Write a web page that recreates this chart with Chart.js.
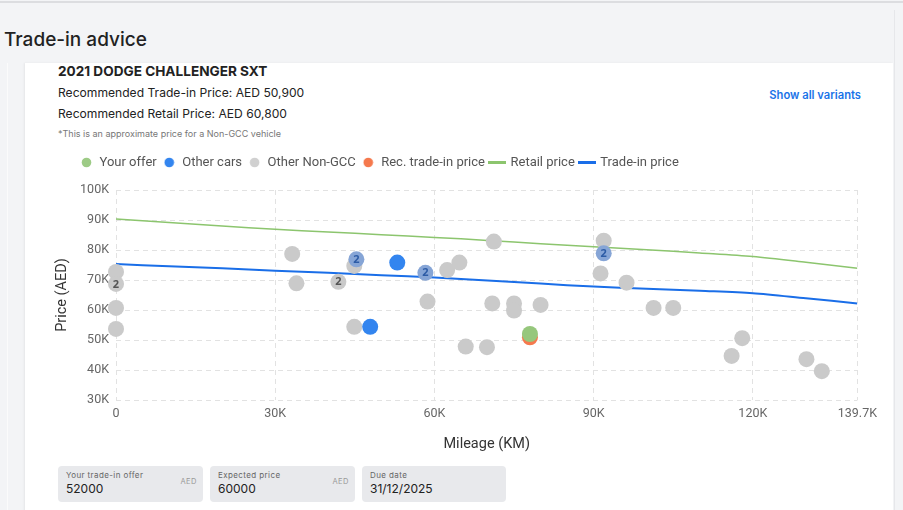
<!DOCTYPE html>
<html>
<head>
<meta charset="utf-8">
<script src="https://cdn.jsdelivr.net/npm/chart.js@4.4.0/dist/chart.umd.min.js"></script>
<style>
  html, body { margin: 0; padding: 0; }
  body {
    width: 903px; height: 510px; overflow: hidden; position: relative;
    background: #f3f4f6; font-family: Inter, "Noto Sans", sans-serif; color: #222;
  }
  .topline { position: absolute; left: 0; top: 1px; width: 903px; height: 2px; background: #dcdde0; }
  .sideline { position: absolute; left: 7px; top: 63px; width: 1px; height: 447px; background: #fbfbfb; }
  .rightline { position: absolute; left: 894px; top: 10px; width: 1px; height: 500px; background: #e6e7ea; }
  h2 { position: absolute; left: 4px; top: 27px; margin: 0; font-size: 19px; font-weight: 500; line-height: 26px; }
  .card { position: absolute; left: 25px; top: 63px; width: 868px; height: 460px; background: #fff; box-shadow: -1px 0 2px rgba(0,0,0,0.06); }
  .txt { position: absolute; left: 58px; white-space: nowrap; }
  .model { top: 62px; font-size: 13.6px; font-weight: 700; line-height: 18px; }
  .price { font-size: 12.1px; line-height: 16px; }
  .note { top: 128px; font-size: 9px; color: #777; line-height: 12px; }
  .variants { position: absolute; right: 42px; top: 87px; font-size: 11.2px; font-weight: 600; color: #1a73e8; line-height: 16px; }
  #wrap { position: absolute; left: 50px; top: 150px; width: 833px; height: 307px; }
  .box { position: absolute; top: 466px; width: 145px; height: 36px; background: #e8e9ec; border-radius: 4px; }
  .box .lab { position: absolute; left: 8px; top: 4px; font-size: 8px; color: #666; letter-spacing: 0.4px; }
  .box .val { position: absolute; left: 8px; top: 15px; font-size: 12px; color: #222; }
  .box .unit { position: absolute; right: 6px; top: 11px; font-size: 7.5px; color: #999; letter-spacing: 0.5px; }
</style>
</head>
<body>
<div class="topline"></div>
<div class="sideline"></div>
<div class="rightline"></div>
<h2>Trade-in advice</h2>
<div class="card"></div>
<div class="txt model">2021 DODGE CHALLENGER SXT</div>
<div class="txt price" style="top:85px">Recommended Trade-in Price: AED 50,900</div>
<div class="txt price" style="top:106px">Recommended Retail Price: AED 60,800</div>
<div class="txt note">*This is an approximate price for a Non-GCC vehicle</div>
<div class="variants">Show all variants</div>
<div id="wrap"><canvas id="chart"></canvas></div>
<div class="box" style="left:58px"><div class="lab">Your trade-in offer</div><div class="val">52000</div><div class="unit">AED</div></div>
<div class="box" style="left:210px"><div class="lab">Expected price</div><div class="val">60000</div><div class="unit">AED</div></div>
<div class="box" style="left:362px; width:144px"><div class="lab">Due date</div><div class="val">31/12/2025</div></div>
<script>
// 軸の目盛り
const xTicks = [0, 30000, 60000, 90000, 120000, 139700];

// あなたのオファー / 推奨下取り価格
const offerMileage = [78000];
const offerPrice = [52000];
const recMileage = [78000];
const recPrice = [50900];

// 他の車（2 = 重なっている台数）
const otherMileage = [45300, 53000, 47900, 58300, 91900];
const otherPrice = [76900, 75800, 54400, 72400, 78900];
const otherCount = [2, 1, 1, 2, 2];

// 他のNon-GCC車
const nonGccMileage = [0, 0, 0, 0, 33200, 34000, 41900, 44900, 44900, 58700, 62400, 64700, 71200, 70900,
  75000, 75000, 80000, 65900, 69900, 91300, 91900, 96200, 101300, 105000, 118000, 116000, 130100, 133000];
const nonGccPrice = [72700, 68700, 60700, 53700, 78700, 68900, 69400, 74700, 54400, 62800, 73300, 75800, 82800, 62200,
  62200, 59800, 61700, 47800, 47600, 72200, 83100, 69100, 60700, 60700, 50600, 44700, 43600, 39600];
const nonGccCount = [1, 2, 1, 1, 1, 1, 2, 1, 1, 1, 1, 1, 1, 1, 1, 1, 1, 1, 1, 1, 1, 1, 1, 1, 1, 1, 1, 1];

// 小売価格と下取り価格のライン
const lineMileage = [0, 10000, 20000, 30000, 40000, 50000, 60000, 70000, 80000, 90000, 100000, 110000, 120000, 130000, 139700];
const retailLine = [90300, 89200, 88000, 86900, 86000, 85100, 84200, 83200, 82100, 81100, 80100, 79000, 77800, 75900, 73900];
const tradeInLine = [75300, 74600, 73900, 73100, 72400, 71600, 70800, 69800, 68800, 67800, 67100, 66400, 65600, 63900, 62200];

function toPoints(xs, ys) {
  return xs.map((x, i) => ({ x: x, y: ys[i] }));
}

// 凡例のマーク
function makeSymbol(kind, color) {
  const c = document.createElement("canvas");
  const g = c.getContext("2d");
  if (kind === "dot") {
    c.width = 11; c.height = 11;
    g.fillStyle = color;
    g.beginPath();
    g.arc(5.5, 5.5, 4.8, 0, Math.PI * 2);
    g.fill();
  } else {
    c.width = 18; c.height = 3;
    g.fillStyle = color;
    g.fillRect(0, 0, 18, 3);
  }
  return c;
}

const GREEN = "#96c77c";
const BLUE = "#3385ef";
const CLUSTER_BLUE = "#86a5d6";
const GRAY = "#cacaca";
const RED = "#f5794d";

// 重なりの数を表示する
const clusterLabels = {
  id: "clusterLabels",
  afterDatasetsDraw(chart) {
    const ctx = chart.ctx;
    chart.data.datasets.forEach((ds, i) => {
      if (!ds.counts) return;
      const meta = chart.getDatasetMeta(i);
      meta.data.forEach((pt, j) => {
        if (ds.counts[j] > 1) {
          ctx.save();
          ctx.font = "bold 11px 'Noto Sans'";
          ctx.fillStyle = ds.countColor;
          ctx.textAlign = "center";
          ctx.textBaseline = "middle";
          ctx.fillText(String(ds.counts[j]), pt.x, pt.y + 0.5);
          ctx.restore();
        }
      });
    });
  },
};

// 凡例の位置調整
const legendShift = {
  id: "legendShift",
  beforeInit(chart) {
    const fit = chart.legend.fit;
    chart.legend.fit = function () {
      fit.bind(chart.legend)();
      this.height += 11;
    };
  },
  afterLayout(chart) {
    chart.legend.left += 24;
  },
};

const dotBase = { type: "scatter", pointRadius: 8, pointHoverRadius: 8, pointBorderWidth: 0, clip: false };

new Chart(document.getElementById("chart"), {
  data: {
    datasets: [
      Object.assign({}, dotBase, {
        label: "Your offer",
        data: toPoints(offerMileage, offerPrice),
        backgroundColor: GREEN,
        legendSymbol: makeSymbol("dot", "#9dcb86"),
      }),
      Object.assign({}, dotBase, {
        label: "Other cars",
        data: toPoints(otherMileage, otherPrice),
        counts: otherCount,
        countColor: "#2d5ca6",
        backgroundColor: (c) => (otherCount[c.dataIndex] > 1 ? CLUSTER_BLUE : BLUE),
        legendSymbol: makeSymbol("dot", BLUE),
      }),
      Object.assign({}, dotBase, {
        label: "Other Non-GCC",
        data: toPoints(nonGccMileage, nonGccPrice),
        counts: nonGccCount,
        countColor: "#555",
        backgroundColor: GRAY,
        legendSymbol: makeSymbol("dot", "#d0d0d0"),
      }),
      Object.assign({}, dotBase, {
        label: "Rec. trade-in price",
        data: toPoints(recMileage, recPrice),
        backgroundColor: RED,
        legendSymbol: makeSymbol("dot", RED),
      }),
      {
        type: "line",
        label: "Retail price",
        data: toPoints(lineMileage, retailLine),
        borderColor: "#8cc56e",
        borderWidth: 1.5,
        pointRadius: 0,
        tension: 0.3,
        legendSymbol: makeSymbol("line", "#8cc56e"),
      },
      {
        type: "line",
        label: "Trade-in price",
        data: toPoints(lineMileage, tradeInLine),
        borderColor: "#1a6ee8",
        borderWidth: 2,
        pointRadius: 0,
        tension: 0.3,
        legendSymbol: makeSymbol("line", "#1a6ee8"),
      },
    ],
  },
  options: {
    responsive: true,
    maintainAspectRatio: false,
    animation: false,
    layout: { padding: { left: 0, right: 20, top: 0, bottom: 0 } },
    plugins: {
      tooltip: { enabled: false },
      legend: {
        position: "top",
        align: "start",
        labels: {
          usePointStyle: true,
          boxWidth: 14,
          boxHeight: 13,
          padding: 6,
          color: "#555",
          font: { family: "Roboto", size: 13 },
          generateLabels(chart) {
            return chart.data.datasets.map((ds, i) => ({
              text: ds.label,
              pointStyle: ds.legendSymbol,
              fillStyle: "transparent",
              strokeStyle: "transparent",
              lineWidth: 0,
              fontColor: "#555",
              hidden: !chart.isDatasetVisible(i),
              datasetIndex: i,
            }));
          },
        },
      },
    },
    scales: {
      x: {
        type: "linear",
        min: 0,
        max: 139700,
        afterBuildTicks(scale) {
          scale.ticks = xTicks.map((v) => ({ value: v }));
        },
        afterFit(scale) {
          scale.height = 57;
        },
        grid: { color: "#e2e2e2", drawTicks: false },
        border: { display: false, dash: [5, 4] },
        ticks: {
          padding: 6,
          color: "#666",
          font: { family: "Roboto", size: 12.5 },
          callback: (v) => (v === 0 ? "0" : v / 1000 + "K"),
        },
        title: {
          display: true,
          text: "Mileage (KM)",
          color: "#333",
          font: { family: "Roboto", size: 14.5 },
          padding: { top: 4, bottom: 4 },
        },
      },
      y: {
        min: 30000,
        max: 100000,
        afterFit(scale) {
          scale.width = 66;
        },
        grid: { color: "#e2e2e2", drawTicks: false },
        border: { display: false, dash: [5, 4] },
        ticks: {
          stepSize: 10000,
          padding: 7,
          color: "#666",
          font: { family: "Roboto", size: 12.5 },
          callback: (v) => v / 1000 + "K",
        },
        title: {
          display: true,
          text: "Price (AED)",
          color: "#333",
          font: { family: "Roboto", size: 14.5 },
          padding: { top: 4, bottom: 4 },
        },
      },
    },
  },
  plugins: [clusterLabels, legendShift],
});
</script>
</body>
</html>
